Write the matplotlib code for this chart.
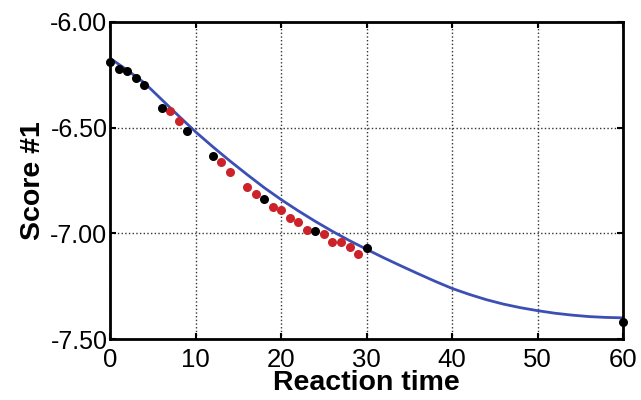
import matplotlib
matplotlib.use("Agg")
from matplotlib import pyplot as plt

plt.rcParams["font.family"] = ["Liberation Sans", "DejaVu Sans"]

# measured points
black_x = [0, 1, 2, 3, 4, 6, 9, 12, 18, 24, 30, 60]
black_y = [-6.190, -6.222, -6.230, -6.267, -6.297, -6.406, -6.516, -6.635,
           -6.836, -6.988, -7.069, -7.418]

red_x = [7, 8, 13, 14, 16, 17, 19, 20, 21, 22, 23, 25, 26, 27, 28, 29]
red_y = [-6.422, -6.469, -6.661, -6.708, -6.780, -6.814, -6.875, -6.887,
         -6.929, -6.948, -6.985, -7.004, -7.041, -7.039, -7.063, -7.096]

# fitted curve
fit_x = [0, 2, 4, 6, 8, 10, 12, 14, 16, 18, 20, 22, 24, 26, 28, 30,
         32, 34, 36, 38, 40, 42, 44, 46, 48, 50, 52, 54, 56, 58, 60]
fit_y = [-6.172, -6.228, -6.288, -6.366, -6.444, -6.520, -6.590, -6.657,
         -6.721, -6.783, -6.840, -6.893, -6.943, -6.990, -7.034, -7.075,
         -7.115, -7.153, -7.190, -7.226, -7.260, -7.288, -7.313, -7.334,
         -7.351, -7.365, -7.377, -7.386, -7.393, -7.397, -7.399]

xticks = [0, 10, 20, 30, 40, 50, 60]
yticks = [-7.5, -7.0, -6.5, -6.0]
ytick_labels = ["-7.50", "-7.00", "-6.50", "-6.00"]

fig = plt.figure(figsize=(6.41, 4.0), dpi=100)
ax = fig.add_axes([0.172, 0.152, 0.800, 0.793])

ax.plot(fit_x, fit_y, color="#3c4fb4", linewidth=2.0, zorder=2)
ax.plot(red_x, red_y, "o", color="#cc2229", markersize=6.5, markeredgewidth=0,
        zorder=3, clip_on=False)
ax.plot(black_x, black_y, "o", color="black", markersize=6.5, markeredgewidth=0,
        zorder=4, clip_on=False)

ax.set_xlim(0, 60)
ax.set_ylim(-7.5, -6.0)
ax.set_xticks(xticks)
ax.set_yticks(yticks)
ax.set_yticklabels(ytick_labels)
ax.tick_params(direction="in", top=True, right=True, length=4, width=1.5)
ax.tick_params(axis="y", labelsize=18, pad=2)
ax.tick_params(axis="x", labelsize=18.5, pad=6)
ax.grid(True, linestyle=":", color="#333333", linewidth=1.0)
for s in ax.spines.values():
    s.set_linewidth(2.0)
ax.set_axisbelow(True)

ax.set_xlabel("Reaction time", fontsize=20.5, fontweight="bold", labelpad=-1)
ax.set_ylabel("Score #1", fontsize=20.5, fontweight="bold", labelpad=3)

fig.savefig("out.png", dpi=100)
